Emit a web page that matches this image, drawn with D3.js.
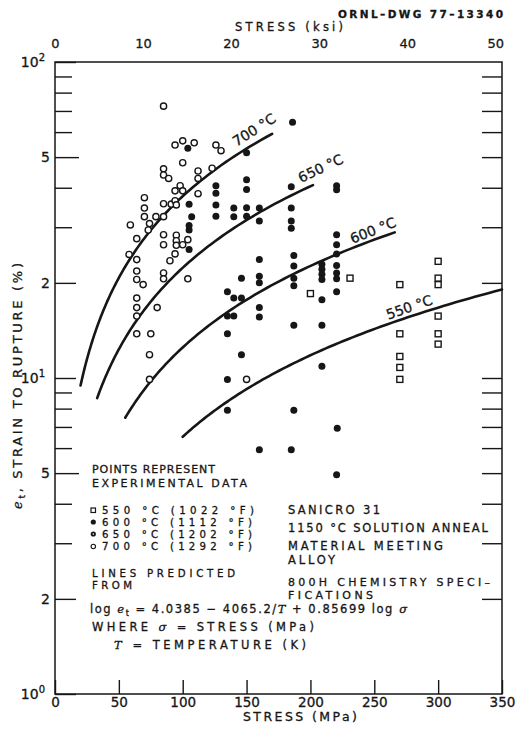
<!DOCTYPE html>
<html>
<head>
<meta charset="utf-8">
<script src="https://cdn.jsdelivr.net/npm/d3@7"></script>
<style>
  body { margin: 0; background: #fff; }
  svg text { font-family: "DejaVu Sans", sans-serif; fill: #161616; stroke: #161616; stroke-width: 0.3px; }
</style>
</head>
<body>
<svg id="chart" width="516" height="731"></svg>
<script>
// ---- axis ticks ----
const mpaTicks = [0, 50, 100, 150, 200, 250, 300, 350];
const ksiTicks = [0, 10, 20, 30, 40, 50];
const strainTicks = [1, 2, 3, 4, 5, 6, 7, 8, 9, 10, 20, 30, 40, 50, 60, 70, 80, 90, 100];
const strainLabelled = [1, 2, 5, 10, 20, 50, 100];
const MPA_PER_KSI = 6.89476;

// ---- prediction: log et = A - B/T + C log(sigma) ----
const coefA = 4.0385, coefB = 4065.2, coefC = 0.85699;
const curveTemps = [550, 600, 650, 700];          // deg C
const curveStart = [100, 55, 33, 20];              // MPa
const curveEnd = [350, 266, 202, 170];             // MPa
const curveLabelAt = [262, 234, 195, 145];         // MPa where each label starts

// ---- experimental points [stress MPa, strain %] ----
const pts550 = [
  [200, 18.5], [231, 20.7],
  [270, 19.75], [270, 13.8], [270, 11.7], [270, 10.8], [270, 9.9],
  [300, 23.4], [300, 20.7], [300, 19.75], [300, 15.7], [300, 13.8], [300, 12.8]
];
const pts600 = [
  [135, 18.75], [135, 15.7], [135, 13.8], [135, 9.9], [135, 7.9],
  [140, 17.9], [140, 15.7],
  [146, 20.7], [146, 17.9], [146, 11.85],
  [160, 23.7], [160, 21.0], [160, 20.0], [160, 16.7], [160, 15.6], [160, 5.93],
  [187, 24.4], [187, 22.6], [187, 20.7], [187, 19.6], [187, 14.7], [187, 7.9], [185, 5.93],
  [209, 22.9], [209, 22.1], [209, 21.3], [209, 20.5], [209, 17.7], [209, 14.7], [209, 10.9],
  [220.5, 28.4], [220.5, 26.4], [220.5, 24.7], [220.5, 22.7], [220.5, 21.5], [220.5, 20.6],
  [220.5, 18.75], [221, 6.94], [220.5, 4.94]
];
const pts650 = [
  [104, 53.3], [105, 35.5], [107, 32.4], [105, 30.4], [105, 29.4], [105, 25.5],
  [126, 40.6], [126, 38.4], [126, 35.3], [126, 32.5],
  [140, 34.5], [140, 32.4],
  [150, 51.6], [150, 42.4], [150, 39.5], [150, 34.6], [150, 32.5],
  [160, 34.5], [160, 31.4],
  [186, 64.5], [185, 40.3], [185, 34.5], [185, 31.4], [185, 29.8],
  [220.5, 40.6], [220.5, 39.4]
];
const pts700 = [
  [85, 72.5], [94, 54.6], [100, 56.3], [109, 55.5], [126, 54.6], [130, 52.4],
  [85, 45.9], [85, 43.9], [89, 42.8], [100, 48.0], [112, 45.2], [112, 42.8], [123, 46.1],
  [98, 40.6], [94, 39.1], [100, 39.1], [112, 38.3],
  [70, 37.2], [85, 35.6], [91, 35.5], [94, 36.4], [95, 35.3],
  [70, 34.5], [70, 32.4], [79, 32.4], [85, 32.4], [74, 30.8], [73, 29.4], [59, 30.5],
  [85, 28.4], [95, 28.3], [95, 27.2], [64, 27.6], [85, 26.4], [95, 26.3], [100, 26.4], [104, 27.4],
  [94, 24.7], [90, 23.5], [58, 24.6], [64, 23.7], [64, 21.8], [64, 20.5], [69, 19.75],
  [85, 21.5], [85, 20.6], [104, 20.6],
  [64, 17.9], [64, 16.7], [64, 15.7], [80, 16.7], [64, 13.8], [75, 13.8], [74, 11.85],
  [74, 9.9], [150, 9.9]
];

// ---- scales ----
const L = 55, R = 502, T = 62, B = 694;
const x = d3.scaleLinear().domain([0, 350]).range([L, R]);
const xk = d3.scaleLinear().domain([0, 350 / MPA_PER_KSI]).range([L, R]);
const y = d3.scaleLog().domain([1, 100]).range([B, T]);

const svg = d3.select("#chart");
const ink = "#161616";

function styleAxis(g, size) {
  g.attr("font-family", null).attr("font-size", size);
  g.selectAll(".tick line").attr("stroke", ink).attr("stroke-width", 1.4);
  g.select(".domain").remove();
}

// frame
svg.append("rect")
  .attr("x", L).attr("y", T).attr("width", R - L).attr("height", B - T)
  .attr("fill", "none").attr("stroke", ink).attr("stroke-width", 1.5);

// bottom axis (MPa)
const gB = svg.append("g").attr("transform", `translate(0,${B})`)
  .call(d3.axisBottom(x).tickValues(mpaTicks).tickSizeInner(-14).tickSizeOuter(0).tickPadding(3));
styleAxis(gB, 13.5);

// top axis (ksi)
const gT = svg.append("g").attr("transform", `translate(0,${T})`)
  .call(d3.axisTop(xk).tickValues(ksiTicks).tickSize(0).tickPadding(14));
styleAxis(gT, 13);

// left axis (strain, log)
const tickLen = v => {
  const m = Math.round(v / Math.pow(10, Math.floor(Math.log10(v) + 1e-9)));
  return m === 5 ? 24 : (m === 2 || m === 1) ? 21 : 17;
};
const gL = svg.append("g").attr("transform", `translate(${L},0)`)
  .call(d3.axisLeft(y).tickValues(strainTicks).tickSizeInner(-17).tickSizeOuter(0).tickPadding(5)
    .tickFormat(() => ""));
styleAxis(gL, 14);
gL.selectAll(".tick line").attr("x2", d => tickLen(d));
gL.selectAll(".tick text").each(function (d) {
  if (!strainLabelled.includes(d)) return;
  const t = d3.select(this);
  const p = Math.log10(d);
  if (Math.abs(p - Math.round(p)) < 1e-9) {
    t.text("10").attr("x", -10);
    t.append("tspan").attr("dy", "-0.55em").attr("font-size", 10).text(String(Math.round(p)));
  } else {
    t.text(String(d / Math.pow(10, Math.floor(p))));
  }
});

// right axis ticks
const gR = svg.append("g").attr("transform", `translate(${R},0)`)
  .call(d3.axisRight(y).tickValues(strainTicks.filter(v => v > 1 && v < 100))
    .tickSizeInner(-20).tickSizeOuter(0).tickFormat(() => ""));
styleAxis(gR, 10);

// axis titles
svg.append("text").attr("x", 289).attr("y", 31).attr("text-anchor", "middle")
  .attr("font-size", 11.5).attr("textLength", 108).text("STRESS (ksi)");
svg.append("text").attr("x", 300).attr("y", 721).attr("text-anchor", "middle")
  .attr("font-size", 12.5).attr("textLength", 114).text("STRESS (MPa)");
svg.append("text").attr("x", 503).attr("y", 18).attr("text-anchor", "end")
  .attr("font-size", 10.5).attr("font-weight", "bold").attr("textLength", 165).text("ORNL\u2013DWG 77\u201313340");

const yTitle = svg.append("text").attr("transform", "translate(22,386) rotate(-90)")
  .attr("text-anchor", "middle").attr("font-size", 13).attr("textLength", 246);
yTitle.append("tspan").attr("font-style", "italic").attr("font-family", "DejaVu Serif").text("e");
yTitle.append("tspan").attr("font-size", 9).attr("dy", 3).text("t");
yTitle.append("tspan").attr("dy", -3).text(", STRAIN TO RUPTURE (%)");

// ---- prediction curves ----
const predict = (s, tc) => Math.pow(10, coefA - coefB / (tc + 273.15) + coefC * Math.log10(s));
const line = d3.line().x(d => x(d[0])).y(d => y(d[1])).curve(d3.curveLinear);
const gC = svg.append("g");
curveTemps.forEach((tc, i) => {
  const s0 = curveStart[i], s1 = curveEnd[i];
  const pts = d3.range(0, 81).map(k => {
    const s = s0 * Math.pow(s1 / s0, k / 80);
    return [s, predict(s, tc)];
  });
  gC.append("path").attr("d", line(pts)).attr("fill", "none")
    .attr("stroke", ink).attr("stroke-width", 2.6).attr("stroke-linecap", "round");

  const sL = curveLabelAt[i];
  const px = x(sL), py = y(predict(sL, tc));
  const qx = x(sL + 2), qy = y(predict(sL + 2, tc));
  const ang = Math.atan2(qy - py, qx - px);
  const off = tc >= 650 ? 7 : 4;
  const lx = px + Math.sin(ang) * off, ly = py - Math.cos(ang) * off;
  gC.append("text")
    .attr("transform", `translate(${lx},${ly}) rotate(${ang * 180 / Math.PI})`)
    .attr("font-size", 14).text(`${tc} \u00B0C`);
});

// ---- points ----
const gP = svg.append("g");
gP.selectAll("rect.p550").data(pts550).join("rect").attr("class", "p550")
  .attr("x", d => x(d[0]) - 3).attr("y", d => y(d[1]) - 3).attr("width", 6).attr("height", 6)
  .attr("fill", "#fff").attr("stroke", ink).attr("stroke-width", 1.4);
gP.selectAll("circle.p600").data(pts600).join("circle").attr("class", "p600")
  .attr("cx", d => x(d[0])).attr("cy", d => y(d[1])).attr("r", 3.5).attr("fill", ink);
gP.selectAll("circle.p650").data(pts650).join("circle").attr("class", "p650")
  .attr("cx", d => x(d[0])).attr("cy", d => y(d[1])).attr("r", 3.5).attr("fill", ink);
gP.selectAll("circle.p700").data(pts700).join("circle").attr("class", "p700")
  .attr("cx", d => x(d[0])).attr("cy", d => y(d[1])).attr("r", 3.1)
  .attr("fill", "#fff").attr("stroke", ink).attr("stroke-width", 1.4);

// ---- notes block ----
const notes = [
  { t: "POINTS REPRESENT", x: 92, y: 473, w: 123, s: 11 },
  { t: "EXPERIMENTAL DATA", x: 92, y: 487, w: 155, s: 11 },
  { t: "550 \u00B0C (1022 \u00B0F)", x: 102, y: 514, w: 152, s: 10.2 },
  { t: "600 \u00B0C (1112 \u00B0F)", x: 102, y: 526, w: 150, s: 10.2 },
  { t: "650 \u00B0C (1202 \u00B0F)", x: 102, y: 538, w: 150, s: 10.2 },
  { t: "700 \u00B0C (1292 \u00B0F)", x: 102, y: 550, w: 150, s: 10.2 },
  { t: "LINES PREDICTED", x: 92, y: 577, w: 143, s: 10.2 },
  { t: "FROM", x: 92, y: 589, w: 40, s: 10.2 },
  { t: "SANICRO 31", x: 288, y: 514, w: 92, s: 11.5 },
  { t: "1150 \u00B0C SOLUTION ANNEAL", x: 288, y: 532, w: 200, s: 11.5 },
  { t: "MATERIAL MEETING", x: 288, y: 550, w: 155, s: 11.5 },
  { t: "ALLOY", x: 288, y: 564, w: 47, s: 11.5 },
  { t: "800H CHEMISTRY SPECI\u2013", x: 288, y: 586, w: 202, s: 11 },
  { t: "FICATIONS", x: 288, y: 599, w: 85, s: 11 }
];
const gN = svg.append("g").attr("font-size", 11.5);
notes.forEach(n => gN.append("text").attr("x", n.x).attr("y", n.y).attr("font-size", n.s)
  .attr("textLength", n.w).attr("lengthAdjust", "spacing").text(n.t));

// legend symbols
const sym = gN.append("g");
sym.append("rect").attr("x", 91).attr("y", 508).attr("width", 4.5).attr("height", 4.5)
  .attr("fill", "#fff").attr("stroke", ink).attr("stroke-width", 1.2);
sym.append("circle").attr("cx", 93.3).attr("cy", 522).attr("r", 2.6).attr("fill", ink);
sym.append("circle").attr("cx", 93.3).attr("cy", 534).attr("r", 2.6).attr("fill", ink);
sym.append("circle").attr("cx", 93.3).attr("cy", 534).attr("r", 0.8).attr("fill", "#fff");
sym.append("circle").attr("cx", 93.3).attr("cy", 546.5).attr("r", 2.2)
  .attr("fill", "#fff").attr("stroke", ink).attr("stroke-width", 1.1);

// equation lines
const eq = gN.append("text").attr("x", 90).attr("y", 613).attr("textLength", 317).attr("lengthAdjust", "spacing");
eq.append("tspan").text("log ");
eq.append("tspan").attr("font-style", "italic").attr("font-family", "DejaVu Serif").text("e");
eq.append("tspan").attr("font-size", 8).attr("dy", 3).text("t");
eq.append("tspan").attr("dy", -3).text(` = ${coefA} \u2212 ${coefB}/`);
eq.append("tspan").attr("font-style", "italic").attr("font-family", "DejaVu Serif").text("T");
eq.append("tspan").text(` + ${coefC} log `);
eq.append("tspan").attr("font-style", "italic").attr("font-family", "DejaVu Serif").text("\u03C3");

const wh = gN.append("text").attr("x", 92).attr("y", 631).attr("textLength", 222).attr("lengthAdjust", "spacing");
wh.append("tspan").text("WHERE ");
wh.append("tspan").attr("font-style", "italic").attr("font-family", "DejaVu Serif").text("\u03C3");
wh.append("tspan").text(" = STRESS (MPa)");

const tl = gN.append("text").attr("x", 114).attr("y", 649).attr("textLength", 192).attr("lengthAdjust", "spacing");
tl.append("tspan").attr("font-style", "italic").attr("font-family", "DejaVu Serif").text("T");
tl.append("tspan").text(" = TEMPERATURE (K)");
</script>
</body>
</html>
